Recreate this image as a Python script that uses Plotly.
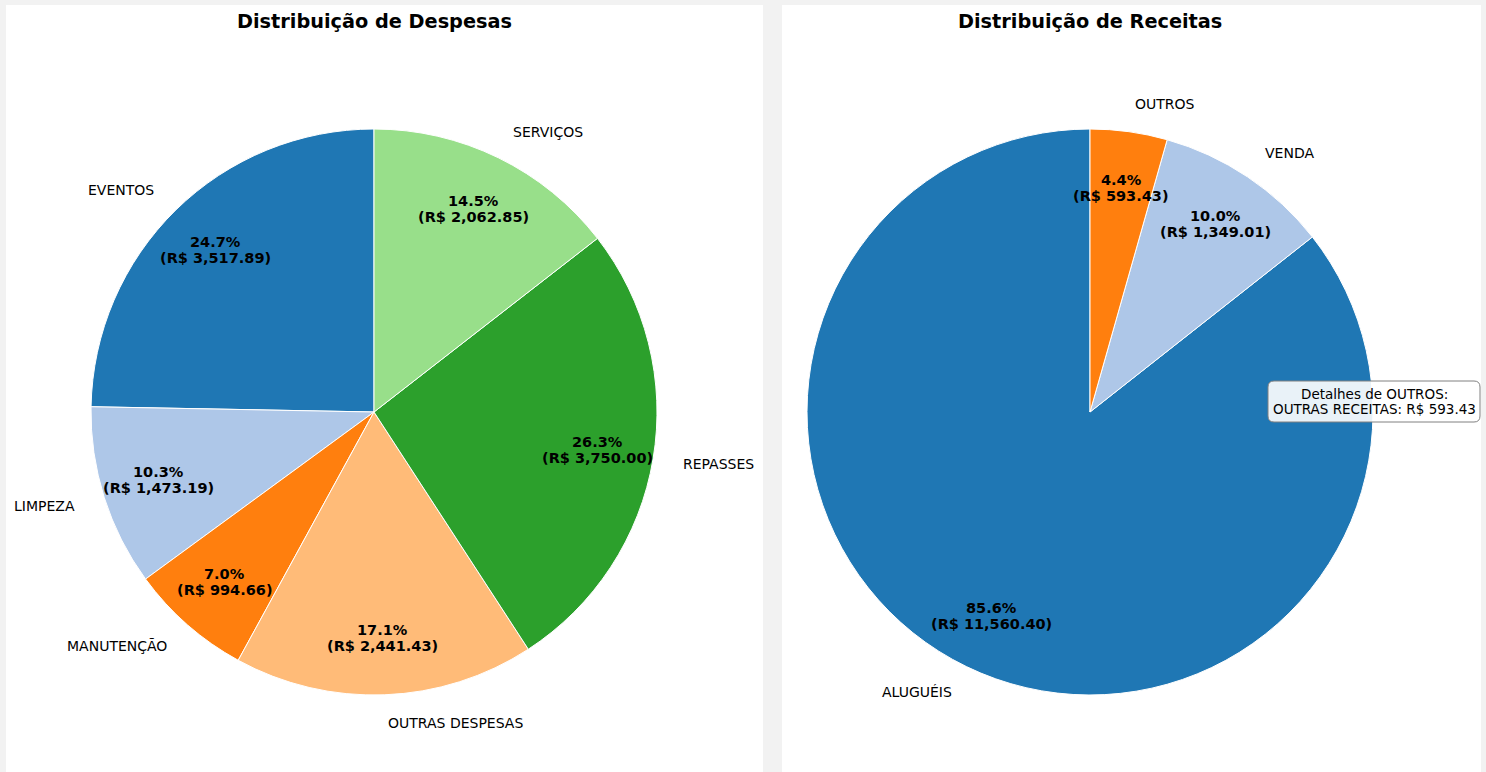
import math
import plotly.graph_objects as go

W, H = 1486, 772

# ---------------- data ----------------
desp_labels = ["EVENTOS", "LIMPEZA", "MANUTENÇÃO", "OUTRAS DESPESAS", "REPASSES", "SERVIÇOS"]
desp_values = [3517.89, 1473.19, 994.66, 2441.43, 3750.00, 2062.85]
desp_colors = ["#1f77b4", "#aec7e8", "#ff7f0e", "#ffbb78", "#2ca02c", "#98df8a"]

rec_labels = ["ALUGUÉIS", "VENDA", "OUTROS"]
rec_values = [11560.40, 1349.01, 593.43]
rec_colors = ["#1f77b4", "#aec7e8", "#ff7f0e"]

outros_detail_label = "OUTRAS RECEITAS"
outros_detail_value = 593.43

titles = ["Distribuição de Despesas", "Distribuição de Receitas"]

# ---------------- layout geometry (pixels) ----------------
R = 283
centers = [(374, 412), (1090, 412)]
panels = [(6, 763), (782, 1481)]
FONT = "DejaVu Sans"


def px(x):
    return x / W


def py(y):
    return 1 - y / H


fig = go.Figure()
annotations = []
shapes = []

for (x0, x1) in panels:
    shapes.append(dict(type="rect", xref="paper", yref="paper",
                       x0=px(x0), x1=px(x1), y0=0, y1=py(5),
                       fillcolor="white", line=dict(width=0), layer="below"))

datasets = [(desp_labels, desp_values, desp_colors), (rec_labels, rec_values, rec_colors)]

for i, (labels, values, colors) in enumerate(datasets):
    cx, cy = centers[i]
    total = sum(values)
    # plotly's counterclockwise puts the first slice clockwise of the start;
    # shift so the first slice starts at 12 o'clock and runs counterclockwise
    rot = -360 * values[0] / total
    fig.add_trace(go.Pie(
        labels=labels, values=values, sort=False,
        direction="counterclockwise", rotation=rot,
        textinfo="none", hoverinfo="label+value+percent",
        marker=dict(colors=colors, line=dict(color="white", width=1)),
        domain=dict(x=[px(cx - R), px(cx + R)], y=[py(cy + R), py(cy - R)]),
        showlegend=False,
    ))
    cum = 0.0
    for lab, v in zip(labels, values):
        frac = v / total
        ang = math.radians(90 + 360 * (cum + frac / 2))
        cum += frac
        c, s = math.cos(ang), math.sin(ang)
        # outer label
        lx, ly = cx + 1.1 * R * c, cy - 1.1 * R * s
        annotations.append(dict(
            x=px(lx), y=py(ly), xref="paper", yref="paper", text=lab,
            showarrow=False, xanchor="left" if c > 0 else "right", yanchor="middle",
            font=dict(family=FONT, size=14, color="black")))
        # percentage label
        tx, ty = cx + 0.8 * R * c, cy - 0.8 * R * s
        annotations.append(dict(
            x=px(tx), y=py(ty - 8), xref="paper", yref="paper",
            text=f"<b>{frac * 100:.1f}%</b>", showarrow=False,
            xanchor="center", yanchor="middle",
            font=dict(family=FONT, size=14.5, color="black")))
        annotations.append(dict(
            x=px(tx), y=py(ty + 8), xref="paper", yref="paper",
            text=f"<b>(R$ {v:,.2f})</b>", showarrow=False,
            xanchor="center", yanchor="middle",
            font=dict(family=FONT, size=14.5, color="black")))
    # title
    annotations.append(dict(
        x=px(cx), y=py(22), xref="paper", yref="paper",
        text=f"<b>{titles[i]}</b>", showarrow=False,
        xanchor="center", yanchor="middle",
        font=dict(family=FONT, size=19.3, color="black")))

# ---------------- details box (rounded) ----------------
bx0, bx1, by0, by1, rr = 1268, 1480, 381, 422, 6
path = (f"M {px(bx0 + rr)},{py(by0)} L {px(bx1 - rr)},{py(by0)} "
        f"Q {px(bx1)},{py(by0)} {px(bx1)},{py(by0 + rr)} "
        f"L {px(bx1)},{py(by1 - rr)} Q {px(bx1)},{py(by1)} {px(bx1 - rr)},{py(by1)} "
        f"L {px(bx0 + rr)},{py(by1)} Q {px(bx0)},{py(by1)} {px(bx0)},{py(by1 - rr)} "
        f"L {px(bx0)},{py(by0 + rr)} Q {px(bx0)},{py(by0)} {px(bx0 + rr)},{py(by0)} Z")
shapes.append(dict(type="path", xref="paper", yref="paper", path=path,
                   fillcolor="rgba(255,255,255,0.9)",
                   line=dict(color="#808080", width=1), layer="above"))
bcx = (bx0 + bx1) / 2
annotations.append(dict(
    x=px(bcx), y=py(394), xref="paper", yref="paper",
    text="Detalhes de OUTROS:", showarrow=False, xanchor="center", yanchor="middle",
    font=dict(family=FONT, size=13.5, color="black")))
annotations.append(dict(
    x=px(bcx), y=py(409), xref="paper", yref="paper",
    text=f"{outros_detail_label}: R$ {outros_detail_value:,.2f}", showarrow=False,
    xanchor="center", yanchor="middle",
    font=dict(family=FONT, size=13.5, color="black")))

fig.update_layout(
    width=W, height=H,
    margin=dict(l=0, r=0, t=0, b=0),
    paper_bgcolor="#f2f2f2", plot_bgcolor="#f2f2f2",
    shapes=shapes, annotations=annotations,
    font=dict(family=FONT),
)

fig.write_html("out.html", config={"displayModeBar": False},
               post_script="document.body.style.margin='0';document.body.style.padding='0';")
